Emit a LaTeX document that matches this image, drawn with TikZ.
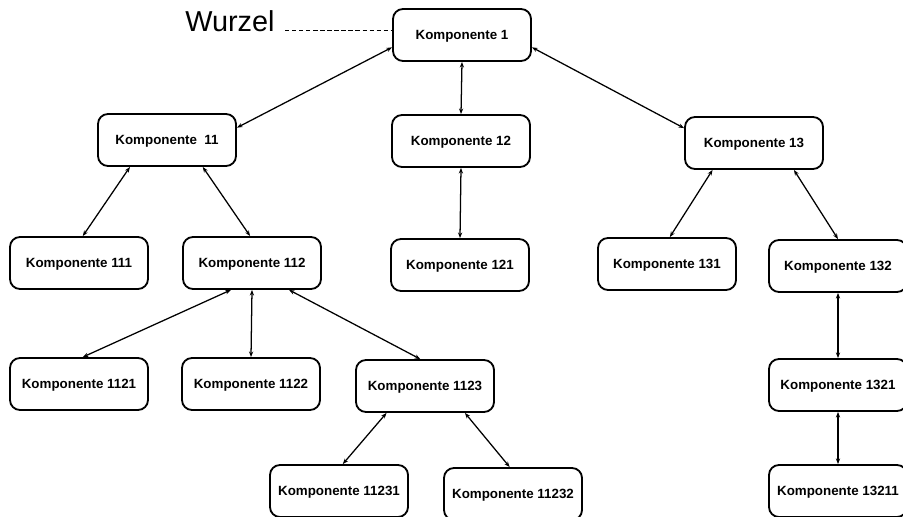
\documentclass[tikz,border=0pt]{standalone}
\usepackage{fontspec}
\setmainfont{Liberation Sans}
\usepackage{tikz}
\usetikzlibrary{arrows.meta}

\begin{document}
\begin{tikzpicture}[x=0.025cm,y=-0.025cm,
        komp/.style={draw,rounded corners=0.25cm,line width=1.3pt,minimum width=3.45cm,minimum height=1.3cm,inner sep=0pt,text depth=0pt,font=\bfseries\fontsize{9.5}{11}\selectfont},
        link/.style={line width=0.9pt,{Stealth[length=4pt,width=3pt]}-{Stealth[length=4pt,width=3pt]}}]
                \useasboundingbox (0,0) rectangle (903,517);
                \node[font=\fontsize{20.5}{24}\selectfont] (wurzel) at (230,21) {Wurzel};

                \node[komp] (k1) at (462,35) {Komponente 1};
                \node[komp] (k11) at (167,140) {Komponente\ \ 11};
                \node[komp] (k12) at (461,141) {Komponente 12};
                \node[komp] (k13) at (754,143) {Komponente 13};
                \node[komp] (k111) at (79,263) {Komponente 111};
                \node[komp] (k112) at (252,263) {Komponente 112};
                \node[komp] (k121) at (460,265) {Komponente 121};
                \node[komp] (k131) at (667,264) {Komponente 131};
                \node[komp] (k132) at (838,266) {Komponente 132};
                \node[komp] (k1121) at (79,384) {Komponente 1121};
                \node[komp] (k1122) at (251,384) {Komponente 1122};
                \node[komp] (k1123) at (425,386) {Komponente 1123};
                \node[komp] (k1321) at (838,385) {Komponente 1321};
                \node[komp] (k11231) at (339,491) {Komponente 11231};
                \node[komp] (k11232) at (513,494) {Komponente 11232};
                \node[komp] (k13211) at (838,491) {Komponente 13211};

                \draw[densely dashed,line width=0.5pt] ([xshift=4pt,yshift=1pt]wurzel.base east) -- ([yshift=1pt]wurzel.base east -| k1.west);

                \foreach \a/\b in {k1.190/k11.10, k1.270/k12.90, k1.350/k13.168,
                        k11.216/k111.82, k11.323/k112.94, k12.270/k121.90,
                        k13.213/k131.84, k13.326/k132.90,
                        k112.232/k1121.82, k112.270/k1122.90, k112.324/k1123.100,
                        k1123.215/k11231.82, k1123.326/k11232.97,
                        k132.270/k1321.90, k1321.270/k13211.90}{
                    \draw[link] (\a) -- (\b);
                }
            \end{tikzpicture}
\end{document}
